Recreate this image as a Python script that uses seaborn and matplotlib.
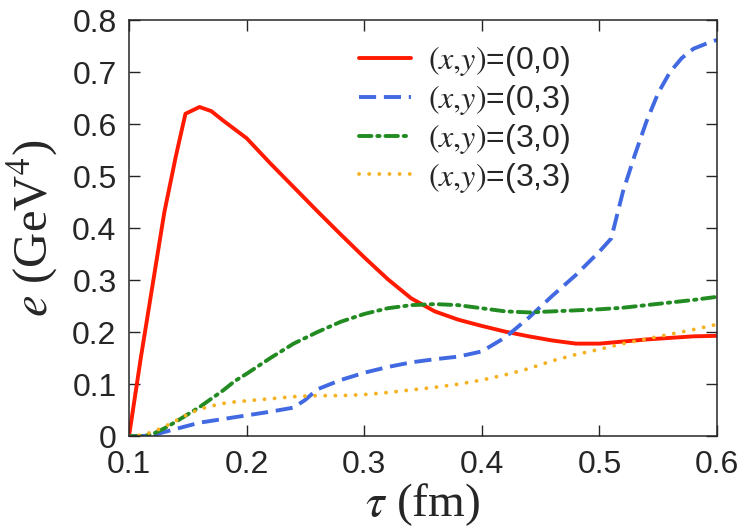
import numpy as np
import pandas as pd
import matplotlib
matplotlib.use("Agg")
import matplotlib.pyplot as plt
from matplotlib.ticker import FuncFormatter
import seaborn as sns

# energy density e(tau) at four transverse positions
tau_00 = [0.10, 0.11, 0.12, 0.13, 0.14, 0.148, 0.16, 0.17, 0.18, 0.19, 0.20,
          0.22, 0.24, 0.26, 0.28, 0.30, 0.32, 0.34, 0.36, 0.38, 0.40, 0.42,
          0.44, 0.46, 0.48, 0.50, 0.52, 0.54, 0.56, 0.58, 0.60]
e_00 = [0.0, 0.15, 0.29, 0.43, 0.54, 0.62, 0.633, 0.625, 0.607, 0.59, 0.573,
        0.525, 0.479, 0.433, 0.388, 0.344, 0.302, 0.265, 0.24, 0.224, 0.212, 0.201,
        0.192, 0.184, 0.178, 0.178, 0.182, 0.186, 0.189, 0.192, 0.193]

tau_03 = [0.10, 0.11, 0.12, 0.13, 0.14, 0.15, 0.16, 0.18, 0.20, 0.22, 0.24,
          0.25, 0.26, 0.28, 0.30, 0.32, 0.34, 0.36, 0.38, 0.40, 0.42, 0.44,
          0.46, 0.48, 0.50, 0.51, 0.52, 0.53, 0.54, 0.55, 0.56, 0.57, 0.58,
          0.59, 0.60]
e_03 = [0.0, 0.0, 0.002, 0.008, 0.014, 0.02, 0.026, 0.033, 0.04, 0.047, 0.055,
        0.07, 0.09, 0.108, 0.122, 0.133, 0.142, 0.148, 0.153, 0.163, 0.19, 0.228,
        0.27, 0.31, 0.355, 0.38, 0.47, 0.54, 0.605, 0.66, 0.70, 0.727, 0.745,
        0.754, 0.762]

tau_30 = [0.10, 0.11, 0.12, 0.13, 0.14, 0.15, 0.16, 0.17, 0.18, 0.19, 0.20,
          0.22, 0.24, 0.26, 0.28, 0.30, 0.32, 0.34, 0.36, 0.38, 0.40, 0.42,
          0.44, 0.46, 0.48, 0.50, 0.52, 0.54, 0.56, 0.58, 0.60]
e_30 = [0.0, 0.0, 0.004, 0.015, 0.028, 0.042, 0.056, 0.072, 0.088, 0.106, 0.12,
        0.15, 0.178, 0.2, 0.22, 0.235, 0.246, 0.252, 0.254, 0.252, 0.246, 0.24,
        0.238, 0.24, 0.242, 0.244, 0.247, 0.252, 0.257, 0.262, 0.268]

tau_33 = tau_30
e_33 = [0.0, 0.002, 0.008, 0.018, 0.03, 0.042, 0.052, 0.058, 0.063, 0.066, 0.068,
        0.072, 0.076, 0.078, 0.078, 0.08, 0.084, 0.089, 0.094, 0.1, 0.108, 0.118,
        0.13, 0.145, 0.157, 0.167, 0.178, 0.187, 0.196, 0.205, 0.215]

labels = [r"$(x{,}y)$=(0,0)", r"$(x{,}y)$=(0,3)", r"$(x{,}y)$=(3,0)", r"$(x{,}y)$=(3,3)"]
colors = ["#ff1a00", "#4169e1", "#228b22", "#f5b120"]

sns.set_style("ticks")
plt.rcParams["font.family"] = ["Liberation Sans", "DejaVu Sans"]
plt.rcParams["mathtext.fontset"] = "stix"
plt.rcParams["xtick.direction"] = "in"
plt.rcParams["ytick.direction"] = "in"

fig = plt.figure(figsize=(7.5, 5.3), dpi=100)
ax = fig.add_axes([0.172, 0.177, 0.784, 0.785])

series = [(tau_00, e_00), (tau_03, e_03), (tau_30, e_30), (tau_33, e_33)]
styles = ["-", (0, (4.4, 2.0)), (0, (3.2, 1.5, 0.6, 1.5)), (0, (0.01, 2.6))]
caps = ["round", "butt", "round", "round"]
for (t, e), lab, col, ls, cap in zip(series, labels, colors, styles, caps):
    df = pd.DataFrame({"tau": t, "e": e})
    sns.lineplot(data=df, x="tau", y="e", ax=ax, color=col, lw=2.8,
                 linestyle=ls, label=lab, dash_capstyle=cap,
                 solid_capstyle="round")

ax.set_xlim(0.1, 0.6)
ax.set_ylim(0, 0.8)
ax.set_xticks(np.arange(0.1, 0.61, 0.1))
ax.set_yticks(np.arange(0, 0.81, 0.1))
ax.yaxis.set_major_formatter(FuncFormatter(lambda v, p: "%g" % round(v, 2)))
ax.xaxis.set_major_formatter(FuncFormatter(lambda v, p: "%g" % round(v, 2)))
ax.tick_params(axis="both", which="major", direction="in", length=8, width=1,
               labelsize=23, top=True, right=True)
ax.tick_params(axis="x", pad=10)
ax.tick_params(axis="y", pad=9)
for sp in ax.spines.values():
    sp.set_linewidth(1.1)
    sp.set_visible(True)

ax.set_xlabel(r"$\tau$ (fm)", fontsize=34, family="Liberation Serif", labelpad=1)
ax.set_ylabel(r"$e$ (GeV$^4$)", fontsize=35, family="Liberation Serif")
ax.yaxis.set_label_coords(-0.118, 0.5)

ax.legend(loc="upper left", bbox_to_anchor=(0.392, 0.942), frameon=False,
          fontsize=23, handlelength=1.6, handletextpad=0.55, labelspacing=0.15,
          borderpad=0, borderaxespad=0)

fig.savefig("out.png", dpi=100)
